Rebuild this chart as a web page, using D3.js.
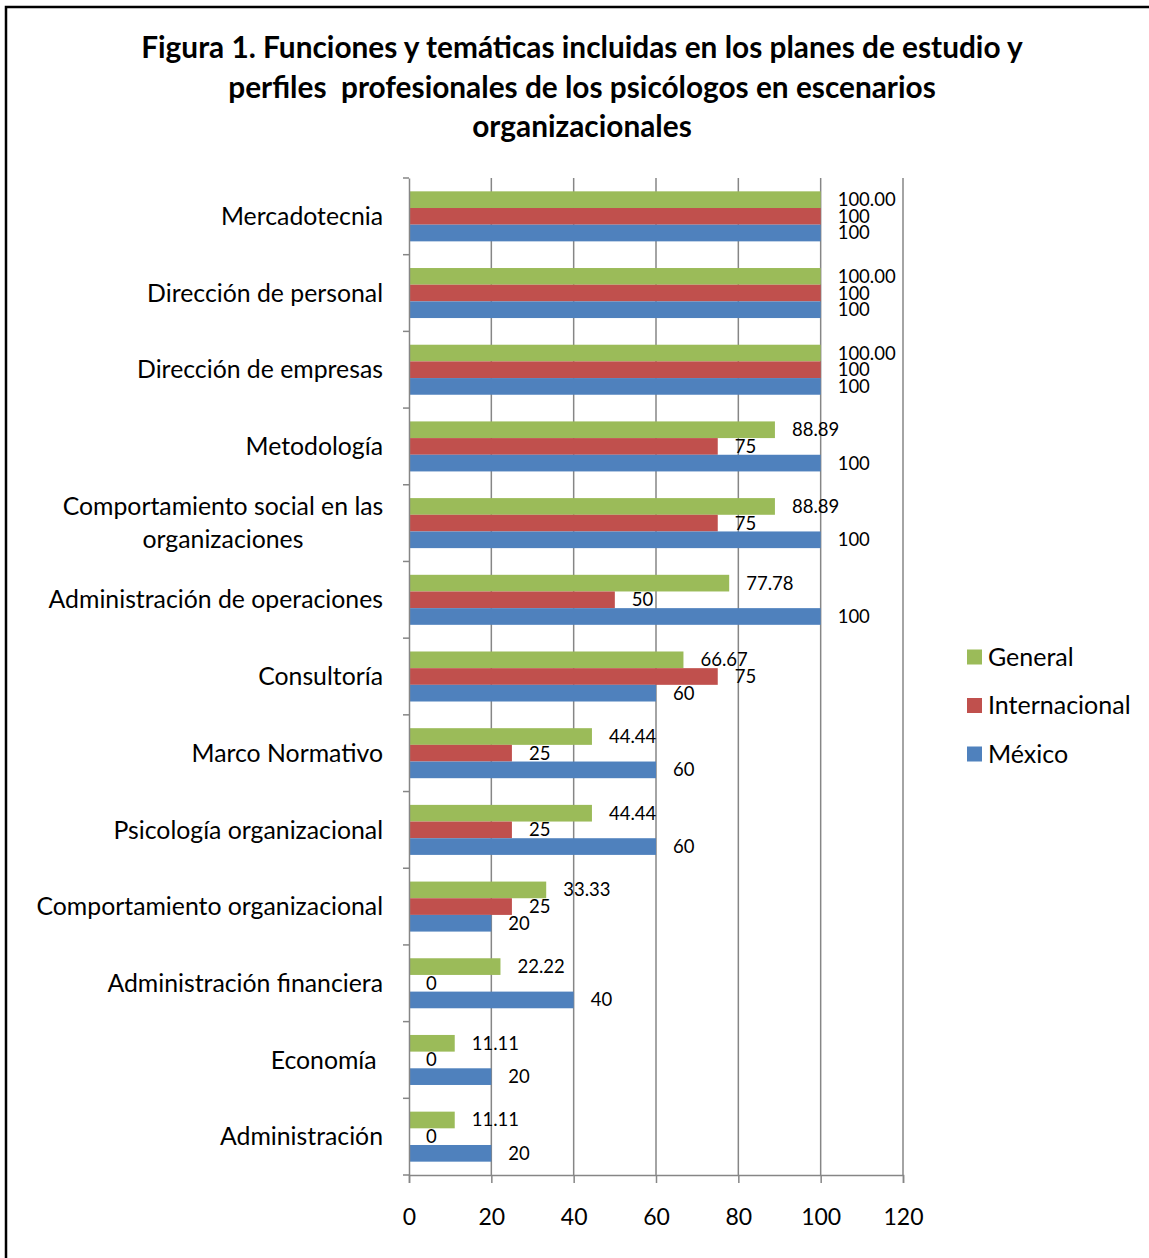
<!DOCTYPE html>
<html>
<head>
<meta charset="utf-8">
<script src="https://cdn.jsdelivr.net/npm/d3@7"></script>
<style>
  body { margin: 0; background: #fff; }
  svg { display: block; font-family: Lato, "Open Sans", sans-serif; }
</style>
</head>
<body>
<svg id="chart"></svg>
<script>
const titleLines = [
    "Figura 1. Funciones y temáticas incluidas en los planes de estudio y",
    "perfiles  profesionales de los psicólogos en escenarios",
    "organizacionales"
];

const categories = [
    "Mercadotecnia",
    "Dirección de personal",
    "Dirección de empresas",
    "Metodología",
    "Comportamiento social en las organizaciones",
    "Administración de operaciones",
    "Consultoría",
    "Marco Normativo",
    "Psicología organizacional",
    "Comportamiento organizacional",
    "Administración financiera",
    "Economía ",
    "Administración"
];

const seriesNames = ["General", "Internacional", "México"];
const seriesColors = ["#9bbb59", "#c0504d", "#4f81bd"];

const general = [100, 100, 100, 88.89, 88.89, 77.78, 66.67, 44.44, 44.44, 33.33, 22.22, 11.11, 11.11];
const internacional = [100, 100, 100, 75, 75, 50, 75, 25, 25, 25, 0, 0, 0];
const mexico = [100, 100, 100, 100, 100, 100, 60, 60, 60, 20, 40, 20, 20];

const xTicks = [0, 20, 40, 60, 80, 100, 120];

// table built from the arrays above
const seriesValues = [general, internacional, mexico];
const rows = [];
categories.forEach((c, i) => {
    seriesNames.forEach((s, j) => {
        rows.push({cat: c, series: s, value: seriesValues[j][i], decimals: j === 0 ? 2 : 0});
    });
});

const width = 1149, height = 1258;
const svg = d3.select("#chart").attr("width", width).attr("height", height);

// outer frame (only left and top edges are visible)
svg.append("path")
    .attr("d", `M${width + 5},7 H6 V${height + 5}`)
    .attr("fill", "none")
    .attr("stroke", "#000")
    .attr("stroke-width", 2.5);

// title
svg.append("text")
    .attr("x", 582)
    .attr("y", 58)
    .attr("text-anchor", "middle")
    .style("font-weight", "bold")
    .style("font-size", "29.8px")
    .style("white-space", "pre")
    .selectAll("tspan")
    .data(titleLines)
    .join("tspan")
    .attr("x", 582)
    .attr("dy", (d, i) => i === 0 ? 0 : 39.5)
    .text(d => d);

const xScale = d3.scaleLinear().domain([0, 120]).range([409, 903]);
const yScale = d3.scaleBand().domain(categories).range([178, 1175]).padding(0);
const inner = d3.scaleBand().domain(seriesNames).range([0, yScale.bandwidth()])
    .paddingInner(0).paddingOuter(0.8);
const color = d3.scaleOrdinal().domain(seriesNames).range(seriesColors);

const gridColor = "#868686";

// gridlines
svg.append("g")
    .selectAll("line")
    .data(xTicks.filter(d => d > 0))
    .join("line")
    .attr("x1", d => xScale(d))
    .attr("x2", d => xScale(d))
    .attr("y1", 178)
    .attr("y2", 1175)
    .attr("stroke", gridColor)
    .attr("stroke-width", 1.5);

// bars
svg.append("g")
    .selectAll("rect")
    .data(rows)
    .join("rect")
    .attr("x", xScale(0))
    .attr("y", d => yScale(d.cat) + inner(d.series))
    .attr("width", d => xScale(d.value) - xScale(0))
    .attr("height", inner.bandwidth())
    .attr("fill", d => color(d.series));

// value labels
svg.append("g")
    .selectAll("text")
    .data(rows)
    .join("text")
    .attr("x", d => xScale(d.value) + 17)
    .attr("y", d => yScale(d.cat) + inner(d.series) + inner.bandwidth() / 2)
    .attr("dy", "0.35em")
    .style("font-size", "18.5px")
    .attr("fill", "#000")
    .text(d => d.value.toFixed(d.decimals));

// y axis
const yAxis = svg.append("g")
    .attr("transform", `translate(${xScale(0)},0)`)
    .call(d3.axisLeft(yScale).tickSize(0).tickFormat(""));
yAxis.select(".domain").attr("stroke", gridColor).attr("stroke-width", 1.5);
const bounds = d3.range(categories.length + 1).map(i => 178 + i * yScale.step());
yAxis.selectAll(".bound")
    .data(bounds)
    .join("line")
    .attr("class", "bound")
    .attr("x1", -6).attr("x2", 0)
    .attr("y1", d => d).attr("y2", d => d)
    .attr("stroke", gridColor)
    .attr("stroke-width", 1.5);

// category labels
const catLabels = svg.append("g")
    .selectAll("text")
    .data(categories)
    .join("text")
    .attr("text-anchor", "end")
    .style("font-size", "24.8px")
    .attr("fill", "#000");

catLabels.each(function(d) {
    const t = d3.select(this);
    const cy = yScale(d) + yScale.bandwidth() / 2;
    if (d.startsWith("Comportamiento social")) {
        t.attr("text-anchor", "middle");
        t.append("tspan").attr("x", 223).attr("y", cy - 16.5).attr("dy", "0.35em").text("Comportamiento social en las");
        t.append("tspan").attr("x", 223).attr("y", cy + 16.5).attr("dy", "0.35em").text("organizaciones");
    } else {
        t.attr("x", 383).attr("y", cy).attr("dy", "0.35em").style("white-space", "pre").text(d.replace(/ $/, "\u00a0"));
    }
});

// x axis
const xAxis = svg.append("g")
    .attr("transform", "translate(0,1175)")
    .call(d3.axisBottom(xScale).tickValues(xTicks).tickSize(8).tickPadding(26).tickFormat(d3.format("d")));
xAxis.select(".domain").attr("stroke", gridColor).attr("stroke-width", 1.5);
xAxis.selectAll(".tick line").attr("stroke", gridColor).attr("stroke-width", 1.5);
xAxis.selectAll(".tick text")
    .style("font-size", "23px")
    .style("font-family", "Lato, 'Open Sans', sans-serif")
    .attr("fill", "#000");

// legend
const legend = svg.append("g")
    .selectAll("g")
    .data(seriesNames)
    .join("g")
    .attr("transform", (d, i) => `translate(967,${657 + i * 48.5})`);
legend.append("rect")
    .attr("x", 0).attr("y", -7.5)
    .attr("width", 15).attr("height", 15)
    .attr("fill", d => color(d));
legend.append("text")
    .attr("x", 21).attr("y", 0).attr("dy", "0.35em")
    .style("font-size", "25px")
    .text(d => d);
</script>
</body>
</html>
